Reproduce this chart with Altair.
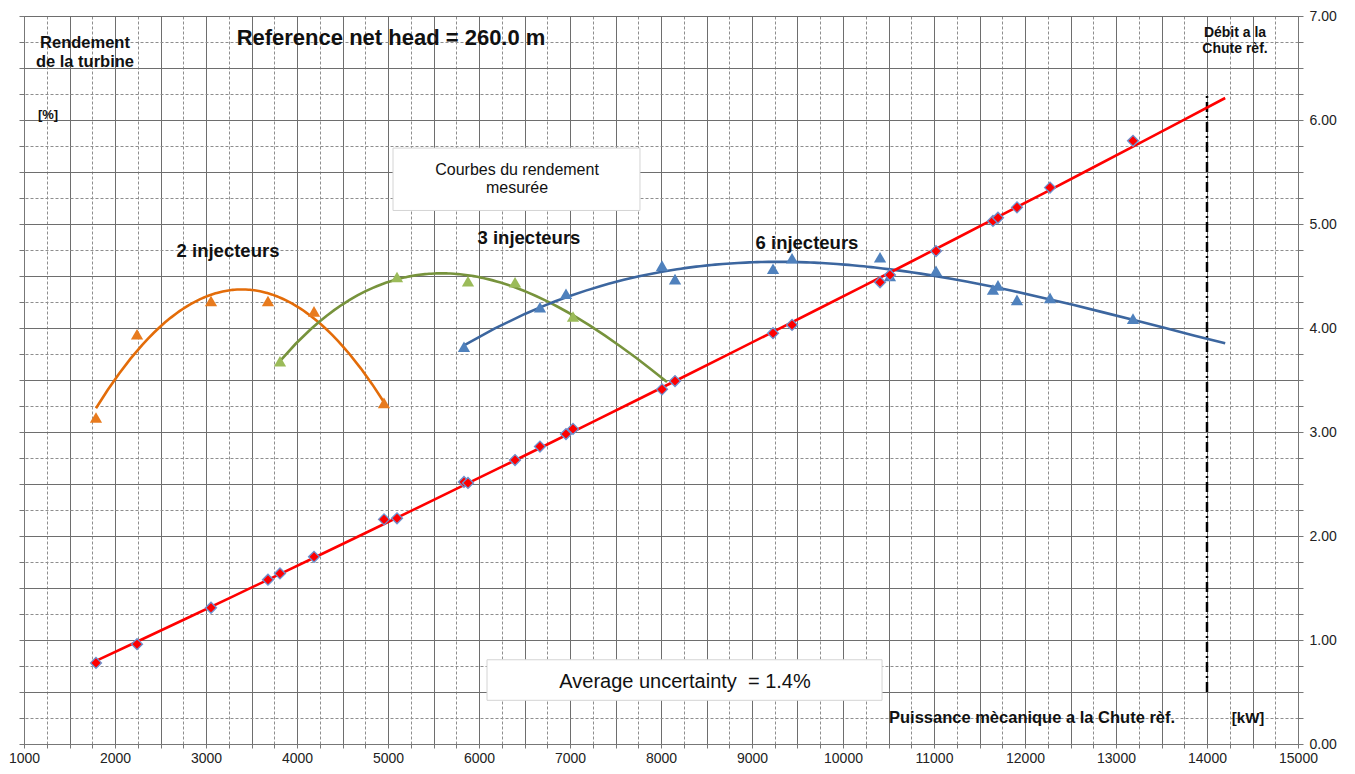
import altair as alt
import pandas as pd

# ---------------- data ----------------
# Mechanical power at reference head [kW] for each measured point
p_kw = [1791, 2242, 3055, 3681, 3813, 4187, 4956, 5099, 5835, 5879, 6396, 6670, 6956,
        7033, 8011, 8154, 9231, 9440, 10407, 10516, 11022, 11648, 11703, 11912, 12275, 13187]
# Discharge at reference head (right axis)
debit = [0.78, 0.96, 1.31, 1.58, 1.64, 1.80, 2.16, 2.17, 2.52, 2.51, 2.73, 2.86, 2.98,
         3.03, 3.41, 3.49, 3.95, 4.03, 4.44, 4.51, 4.74, 5.03, 5.06, 5.16, 5.35, 5.80]

# Measured efficiency, plotted in chart units (left axis unlabeled)
p_2inj = [1791, 2242, 3055, 3681, 4187, 4956]
eta_2inj = [3.14, 3.94, 4.26, 4.26, 4.16, 3.28]

p_3inj = [3813, 5099, 5879, 6396, 7033]
eta_3inj = [3.68, 4.49, 4.45, 4.44, 4.11]

p_6inj = [5835, 6670, 6956, 8011, 8154, 9231, 9440, 10407, 10516, 11022, 11648, 11703,
          11912, 12275, 13187]
eta_6inj = [3.82, 4.20, 4.33, 4.60, 4.47, 4.57, 4.67, 4.68, 4.50, 4.55, 4.37, 4.41,
            4.27, 4.29, 4.09]

# trendline extents
ext_debit = [1791, 14200]
ext_2inj = [1791, 4956]
ext_3inj = [3813, 8066]
ext_6inj = [5835, 14200]

# reference discharge marker
p_ref = [14000]
ref_lo = [0.5]
ref_hi = [6.25]

# axis ticks
x_ticks = list(range(1000, 15001, 250))
y_ticks = [i * 0.25 for i in range(0, 29)]

FONT = "Liberation Sans, Arial, sans-serif"

df_debit = pd.DataFrame({"P": p_kw, "v": debit})
df2 = pd.DataFrame({"P": p_2inj, "v": eta_2inj})
df3 = pd.DataFrame({"P": p_3inj, "v": eta_3inj})
df6 = pd.DataFrame({"P": p_6inj, "v": eta_6inj})

xscale = alt.Scale(domain=[1000, 15000], nice=False, zero=False)
yscale = alt.Scale(domain=[0, 7], nice=False, zero=True)

SOLID = "#6e6e6e"
DASHED = "#8e8e8e"

xaxis = alt.Axis(
    values=x_ticks, format="d",
    labelExpr="datum.value % 1000 === 0 ? datum.label : ''",
    labelFlush=False, labelOverlap=False, title=None,
    labelFont=FONT, labelFontSize=14, labelColor="#222",
    tickSize=4, tickColor="#777", domainColor="#777", labelPadding=3,
    grid=True,
    gridColor={"condition": {"test": "datum.value % 500 === 0", "value": SOLID}, "value": DASHED},
    gridDash={"condition": {"test": "datum.value % 500 === 0", "value": []}, "value": [3, 2]},
    gridWidth=1,
)
yaxis_right = alt.Axis(
    orient="right", values=y_ticks, format=".2f",
    labelExpr="datum.value % 1 === 0 ? datum.label : ''",
    labelFlush=False, labelOverlap=False, title=None,
    labelFont=FONT, labelFontSize=14, labelColor="#222",
    tickSize=5, tickColor="#777", domainColor="#777", labelPadding=6,
    grid=True,
    gridColor={"condition": {"test": "datum.value % 0.5 === 0", "value": SOLID}, "value": DASHED},
    gridDash={"condition": {"test": "datum.value % 0.5 === 0", "value": []}, "value": [3, 2]},
    gridWidth=1,
)
yaxis_left = alt.Axis(
    orient="left", values=y_ticks, labels=False, title=None, grid=False,
    tickSize=5, tickColor="#777", domainColor="#777",
)

X = alt.X("P:Q", scale=xscale, axis=xaxis)


def Y(axis=None):
    return alt.Y("v:Q", scale=yscale, axis=axis)


# -------- boxes --------
df_boxes = pd.DataFrame({
    "x1": [5055, 6088], "x2": [7769, 10429],
    "y1": [5.13, 0.42], "y2": [5.73, 0.81],
})
boxes = alt.Chart(df_boxes).mark_rect(fill="white", stroke="#d4d4d4", strokeWidth=1).encode(
    x=alt.X("x1:Q", scale=xscale, axis=xaxis), x2="x2:Q",
    y=alt.Y("y1:Q", scale=yscale, axis=None), y2="y2:Q",
)

# -------- reference vertical dash-dot line --------
df_ref = pd.DataFrame({"P": p_ref, "lo": ref_lo, "hi": ref_hi})
ref_line = alt.Chart(df_ref).mark_rule(color="black", strokeWidth=2.5, strokeDash=[10, 4, 2, 4]).encode(
    x=X, y=alt.Y("lo:Q", scale=yscale, axis=None), y2="hi:Q"
)

# -------- trendlines --------
def trend(df, color, method, order, extent):
    kw = dict(method=method, extent=extent)
    if method == "poly":
        kw["order"] = order
    return alt.Chart(df).transform_regression("P", "v", **kw).mark_line(
        color=color, strokeWidth=2.6
    ).encode(x=X, y=Y())


t2 = trend(df2, "#E36C09", "poly", 2, ext_2inj)
t3 = trend(df3, "#77933C", "poly", 3, ext_3inj)
t6 = trend(df6, "#3C669F", "poly", 3, ext_6inj)
tq = trend(df_debit, "#FF0000", "poly", 2, ext_debit)

# -------- markers --------
def tri(df, color, axis=None):
    return alt.Chart(df).mark_point(shape="triangle-up", filled=True, size=150, color=color, opacity=1).encode(
        x=X, y=Y(axis)
    )


m2 = tri(df2, "#E87B1E", yaxis_left)
m3 = tri(df3, "#9BBB59")
m6 = tri(df6, "#4F81BD")
mq = alt.Chart(df_debit).mark_point(shape="diamond", filled=True, size=120, fill="#FF0000",
                                    stroke="#6D93D1", strokeWidth=1.3, opacity=1).encode(x=X, y=Y(yaxis_right))

# -------- texts (first line position) --------
def txt(labels, xs, ys, size, weight="normal", color="#111"):
    df = pd.DataFrame({"P": xs, "v": ys, "t": labels})
    return alt.Chart(df).mark_text(
        fontSize=size, fontWeight=weight, font=FONT, color=color,
        align="center", baseline="middle", lineBreak="\n", lineHeight=size * 1.15,
    ).encode(x=X, y=Y(), text="t:N")


texts = [
    txt(["Reference net head = 260.0 m"], [5033], [6.79], 22, "bold"),
    txt(["Rendement\nde la turbine"], [1670], [6.74], 16.5, "bold"),
    txt(["[%]"], [1264], [6.05], 13, "bold"),
    txt(["Débit a la\nChute rèf."], [14308], [6.84], 14, "bold"),
    txt(["2 injecteurs", "3 injecteurs", "6 injecteurs"], [3242, 6549, 9604], [4.74, 4.87, 4.82], 18.5, "bold"),
    txt(["Courbes du rendement\nmesurée"], [6418], [5.52], 16),
    txt(["Average uncertainty \u00a0= 1.4%"], [8264], [0.60], 20),
    txt(["Puissance mècanique a la Chute rèf."], [12077], [0.25], 16.5, "bold"),
    txt(["[kW]"], [14451], [0.25], 15, "bold"),
]

chart = alt.layer(
    boxes, ref_line, t2, t3, t6, tq, m2, m3, m6, mq, *texts
).resolve_axis(y="independent").properties(
    width=1274, height=728,
    autosize=alt.AutoSizeParams(type="none"),
    padding={"left": 16, "top": 8, "right": 45, "bottom": 20},
    background="white",
).configure_view(stroke="#777", strokeWidth=1)

chart.save("out.html", embed_options={"renderer": "svg", "actions": False})
